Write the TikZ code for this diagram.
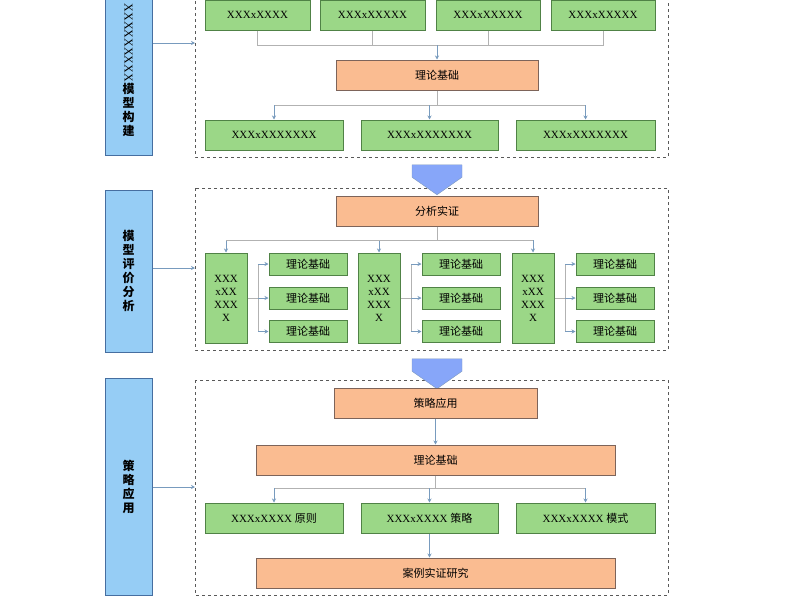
\documentclass[tikz,border=0pt]{standalone}
\usepackage{fontspec}
\setmainfont{Liberation Serif}
\newfontfamily\cjk{Noto Sans CJK SC}
\usetikzlibrary{arrows.meta,shapes.arrows}
\definecolor{sideblue}{RGB}{150,205,245}
\definecolor{sideedge}{RGB}{70,110,160}
\definecolor{leaf}{RGB}{155,215,135}
\definecolor{leafedge}{RGB}{80,130,70}
\definecolor{peach}{RGB}{250,188,145}
\definecolor{peachedge}{RGB}{125,100,90}
\definecolor{wire}{RGB}{120,155,190}
\tikzset{
  box/.style={draw, line width=1pt, inner sep=0pt, font=\fontsize{11}{13}\selectfont},
  side/.style={box, fill=sideblue, draw=sideedge, align=center, font=\cjk\fontsize{12}{14}\selectfont\bfseries},
  grn/.style={box, fill=leaf, draw=leafedge},
  org/.style={box, fill=peach, draw=peachedge},
  frame/.style={draw=gray!70!black, dashed, line width=0.8pt},
  link/.style={draw=wire, line width=0.7pt, -{Stealth[length=4pt,width=4pt]}},
  line/.style={draw=gray!60, line width=0.7pt},
  bigarrow/.style={single arrow, draw=sideedge!70, fill=sideblue!70!blue!80, minimum width=50pt,
    single arrow head extend=0pt, single arrow tip angle=110, shape border rotate=270, minimum height=30pt, inner sep=0pt}
}
\begin{document}
\begin{tikzpicture}[x=1pt,y=-1pt]
\useasboundingbox (0,0) rectangle (800,600);

% side bars
\node[side, minimum width=47pt, minimum height=170pt] (s1) at (128.5,70) {\rotatebox{-90}{\rmfamily\mdseries XXXXXXXXX}\\模\\型\\构\\建};
\node[side, minimum width=47pt, minimum height=162pt] (s2) at (128.5,271) {模\\型\\评\\价\\分\\析};
\node[side, minimum width=47pt, minimum height=217pt] (s3) at (128.5,486.5) {策\\略\\应\\用};

% dashed frames
\draw[frame] (195,-5) rectangle (668,157);
\draw[frame] (195,188) rectangle (668,350);
\draw[frame] (195,380) rectangle (668,595);
\coordinate (f1) at (195,43);
\coordinate (f2) at (195,268);
\coordinate (f3) at (195,487);
\draw[link] (s1.east |- f1) -- (f1);
\draw[link] (s2.east |- f2) -- (f2);
\draw[link] (s3.east |- f3) -- (f3);

% stage 1
\node[grn, minimum width=105pt, minimum height=30pt] (a1) at (257.5,15) {XXXxXXXX};
\node[grn, minimum width=105pt, minimum height=30pt] (a2) at (372.5,15) {XXXxXXXXX};
\node[grn, minimum width=104pt, minimum height=30pt] (a3) at (488,15) {XXXxXXXXX};
\node[grn, minimum width=104pt, minimum height=30pt] (a4) at (603,15) {XXXxXXXXX};
\node[org, minimum width=202pt, minimum height=30pt] (t1) at (437,75) {\cjk 理论基础};
\node[grn, minimum width=138pt, minimum height=30pt] (b1) at (274,135) {XXXxXXXXXXX};
\node[grn, minimum width=137pt, minimum height=30pt] (b2) at (429.5,135) {XXXxXXXXXXX};
\node[grn, minimum width=139pt, minimum height=30pt] (b3) at (585.5,135) {XXXxXXXXXXX};
\coordinate (bus1) at (437,45);
\draw[line] (a1.south) |- (bus1) (a4.south) |- (bus1);
\foreach \n in {a2,a3} \draw[line] (\n.south) -- (\n.south |- bus1);
\draw[link] (bus1) -- (t1.north);
\coordinate (bus2) at (437,105);
\draw[line] (t1.south) -- (bus2);
\draw[line] (b1.north |- bus2) -- (b3.north |- bus2);
\foreach \n in {b1,b2,b3} \draw[link] (\n.north |- bus2) -- (\n.north);

\node[bigarrow] (d1) at (437,171) {};

% stage 2
\node[org, minimum width=202pt, minimum height=30pt] (t2) at (437,211) {\cjk 分析实证};
\coordinate (bus3) at (437,240);
\draw[line] (t2.south) -- (bus3);
\foreach \x/\i in {226/1,379/2,533/3} {
  \node[grn, minimum width=42pt, minimum height=90pt, align=center] (g\i) at (\x,298) {XXX\\xXX\\XXX\\X};
  \draw[link] (g\i.north |- bus3) -- (g\i.north);
  \coordinate (h\i) at (\x+32,298);
  \draw[line] (g\i.east) -- (h\i);
  \foreach \y/\j in {264/1,298/2,331.5/3} {
    \node[grn, minimum width=78pt, minimum height=22pt] (k\i\j) at (\x+82,\y) {\cjk 理论基础};
  }
  \draw[line] (h\i |- k\i1) -- (h\i |- k\i3);
  \foreach \j in {1,2,3} \draw[link] (h\i |- k\i\j) -- (k\i\j.west);
}
\draw[line] (g1.north |- bus3) -- (g3.north |- bus3);

\node[bigarrow] (d2) at (437,365) {};

% stage 3
\node[org, minimum width=203pt, minimum height=30pt] (t3) at (435.5,403) {\cjk 策略应用};
\node[org, minimum width=359pt, minimum height=30pt] (t4) at (435.5,460) {\cjk 理论基础};
\draw[link] (t3) -- (t4);
\node[grn, minimum width=138pt, minimum height=30pt] (c1) at (274,518) {XXXxXXXX {\cjk 原则}};
\node[grn, minimum width=137pt, minimum height=30pt] (c2) at (429.5,518) {XXXxXXXX {\cjk 策略}};
\node[grn, minimum width=139pt, minimum height=30pt] (c3) at (585.5,518) {XXXxXXXX {\cjk 模式}};
\coordinate (bus4) at (435.5,488);
\draw[line] (t4.south) -- (bus4);
\draw[line] (c1.north |- bus4) -- (c3.north |- bus4);
\foreach \n in {c1,c2,c3} \draw[link] (\n.north |- bus4) -- (\n.north);
\node[org, minimum width=359pt, minimum height=30pt] (t5) at (435.5,573) {\cjk 案例实证研究};
\draw[link] (c2.south) -- (c2.south |- t5.north);
\node[bigarrow, minimum height=20pt] (d3) at (437,606) {};
\end{tikzpicture}
\end{document}
